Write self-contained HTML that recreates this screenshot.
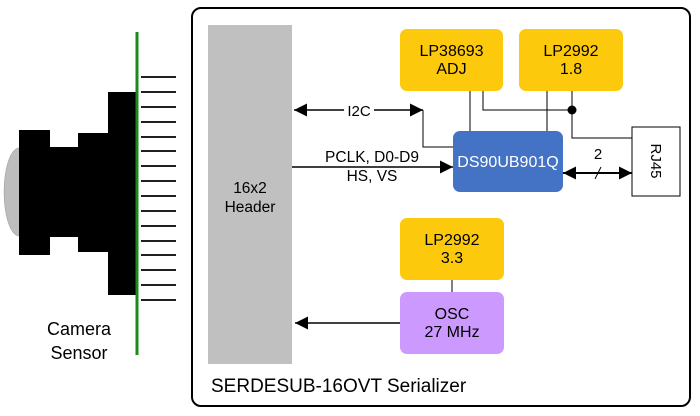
<!DOCTYPE html>
<html><head><meta charset="utf-8"><style>html,body{margin:0;padding:0;background:#fff}svg{display:block}text{font-family:"Liberation Sans",sans-serif}</style></head>
<body>
<svg width="700" height="416" viewBox="0 0 700 416" xmlns="http://www.w3.org/2000/svg">
<defs>
<marker id="b" viewBox="0 0 10 10" refX="10" refY="5" markerWidth="18" markerHeight="13" markerUnits="userSpaceOnUse" orient="auto-start-reverse"><path d="M0,0L10,5L0,10z" fill="#000"/></marker>
</defs>
<!-- camera -->
<ellipse cx="19" cy="192" rx="15" ry="44" fill="#bdbdbd" stroke="#999" stroke-width="0.5"/>
<rect x="19" y="130" width="31" height="125" fill="#000"/>
<rect x="49" y="147" width="30" height="90" fill="#000"/>
<rect x="78" y="133" width="31" height="119" fill="#000"/>
<rect x="108" y="92" width="30" height="203" fill="#000"/>
<g stroke="#000" stroke-width="1.8">
<line x1="141" y1="77" x2="176" y2="77"/><line x1="141" y1="92" x2="176" y2="92"/><line x1="141" y1="107" x2="176" y2="107"/><line x1="141" y1="122" x2="176" y2="122"/><line x1="141" y1="137" x2="176" y2="137"/><line x1="141" y1="151" x2="176" y2="151"/><line x1="141" y1="166" x2="176" y2="166"/><line x1="141" y1="181" x2="176" y2="181"/><line x1="141" y1="196" x2="176" y2="196"/><line x1="141" y1="211" x2="176" y2="211"/><line x1="141" y1="226" x2="176" y2="226"/><line x1="141" y1="241" x2="176" y2="241"/><line x1="141" y1="255" x2="176" y2="255"/><line x1="141" y1="270" x2="176" y2="270"/><line x1="141" y1="285" x2="176" y2="285"/><line x1="141" y1="300" x2="176" y2="300"/>
</g>
<line x1="137" y1="32" x2="137" y2="355" stroke="#1a8a1a" stroke-width="3"/>
<text x="79" y="335" font-size="18" text-anchor="middle">Camera</text>
<text x="79" y="359" font-size="18" text-anchor="middle">Sensor</text>
<!-- outer box -->
<rect x="192" y="8" width="498" height="398" rx="9" fill="none" stroke="#000" stroke-width="2"/>
<rect x="208" y="25" width="84" height="339" fill="#c0c0c0"/>
<text x="250" y="193" font-size="15.5" text-anchor="middle">16x2</text>
<text x="250" y="212" font-size="15.5" text-anchor="middle">Header</text>
<!-- wires -->
<g stroke="#000" stroke-width="1" fill="none">
<line x1="470" y1="91" x2="470" y2="131"/>
<polyline points="483,91 483,110 572,110"/>
<line x1="547" y1="91" x2="547" y2="131"/>
<polyline points="572,91 572,138 632,138"/>
<polyline points="423,110 423,147 453,147"/>
<line x1="452" y1="280" x2="452" y2="292"/>
</g>
<circle cx="572" cy="110" r="4.5" fill="#000"/>
<line x1="294" y1="110" x2="423" y2="110" stroke="#000" stroke-width="1.5" marker-start="url(#b)" marker-end="url(#b)"/>
<rect x="344" y="101" width="30" height="18" fill="#fff"/>
<text x="359" y="116" font-size="15" text-anchor="middle">I2C</text>
<line x1="292" y1="167" x2="453" y2="167" stroke="#000" stroke-width="1.5" marker-end="url(#b)"/>
<text x="372" y="162" font-size="15.5" text-anchor="middle">PCLK, D0-D9</text>
<text x="372" y="181" font-size="15.5" text-anchor="middle">HS, VS</text>
<line x1="563" y1="173" x2="632" y2="173" stroke="#000" stroke-width="2" marker-start="url(#b)" marker-end="url(#b)"/>
<line x1="595" y1="179" x2="601" y2="167" stroke="#000" stroke-width="1"/>
<text x="598" y="159" font-size="15" text-anchor="middle">2</text>
<line x1="400" y1="323" x2="295" y2="323" stroke="#000" stroke-width="1.5" marker-end="url(#b)"/>
<!-- boxes -->
<rect x="400" y="29" width="103" height="62" rx="7" fill="#fdc90c"/>
<text x="451.5" y="56" font-size="16" text-anchor="middle">LP38693</text>
<text x="451.5" y="74" font-size="16" text-anchor="middle">ADJ</text>
<rect x="519" y="29" width="104" height="62" rx="7" fill="#fdc90c"/>
<text x="571" y="56" font-size="16" text-anchor="middle">LP2992</text>
<text x="571" y="74" font-size="16" text-anchor="middle">1.8</text>
<rect x="453" y="131" width="110" height="61" rx="7" fill="#4472c4"/>
<text x="508" y="167" font-size="16" fill="#fff" text-anchor="middle">DS90UB901Q</text>
<rect x="632" y="127" width="48" height="69" fill="#fff" stroke="#000" stroke-width="1"/>
<text transform="translate(651,161) rotate(90)" font-size="15" text-anchor="middle">RJ45</text>
<rect x="400" y="218" width="104" height="62" rx="7" fill="#fdc90c"/>
<text x="452" y="245" font-size="16" text-anchor="middle">LP2992</text>
<text x="452" y="263" font-size="16" text-anchor="middle">3.3</text>
<rect x="400" y="292" width="104" height="62" rx="7" fill="#cc99ff"/>
<text x="452" y="319" font-size="16" text-anchor="middle">OSC</text>
<text x="452" y="337" font-size="16" text-anchor="middle">27 MHz</text>
<text x="211" y="392" font-size="19">SERDESUB-16OVT Serializer</text>
</svg>
</body></html>
